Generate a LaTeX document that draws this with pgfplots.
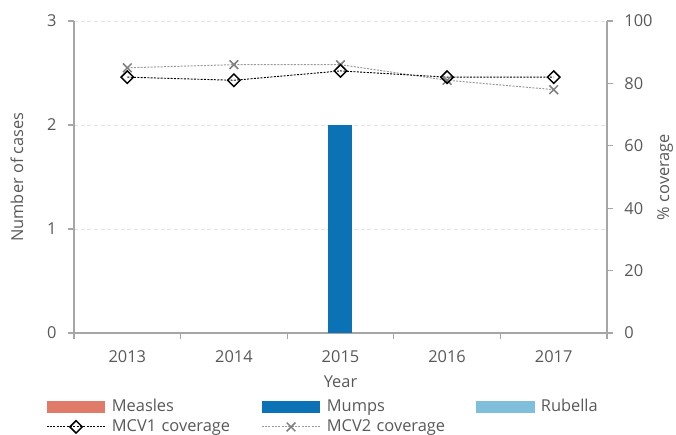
\documentclass[border=0pt]{standalone}
\usepackage{fontspec}
\setmainfont{Open Sans}
\usepackage{pgfplots}
\pgfplotsset{compat=1.18}

\definecolor{txt}{HTML}{595959}
\definecolor{axgray}{HTML}{A6A6A6}
\definecolor{gridgray}{HTML}{E3E3E3}
\definecolor{measles}{HTML}{E07B6A}
\definecolor{mumps}{HTML}{0A72B5}
\definecolor{rubella}{HTML}{7FBFDB}
\definecolor{mcvgray}{HTML}{808080}

\newcommand{\lbl}{\fontsize{12.3pt}{14pt}\selectfont}

\pgfplotsset{
  mcvone/.style={black, dash pattern=on 1.5pt off 1pt, line width=0.7pt,
    mark=square, mark size=3.3pt,
    mark options={solid, rotate=45, line width=1.1pt}},
  mcvtwo/.style={mcvgray!80, dash pattern=on 1.5pt off 1pt, line width=0.75pt,
    mark=x, mark size=4.6pt,
    mark options={solid, mcvgray, line width=1.15pt}},
  barleg/.style={legend image code/.code={
    \fill[##1] (0pt,-4.5pt) rectangle (44pt,4.5pt);}},
  lineleg/.style={legend image code/.code={
    \draw[mark repeat=2, mark phase=2, ##1] plot coordinates {(0pt,0pt) (22pt,0pt) (44pt,0pt)};}},
  zerodrop/.style={y filter/.expression={y==0 ? nan : y}},
  common/.style={
    scale only axis, width=399.75pt, height=234pt,
    xmin=-0.5, xmax=4.5,
    /pgf/number format/assume math mode=true,
    tick label style={font=\lbl, text=txt},
    label style={font=\lbl, text=txt},
    axis line style={axgray, line width=0.8pt},
    tick style={axgray, line width=0.8pt},
    tick align=outside, major tick length=4.5pt,
  },
}

\begin{document}
\begin{tikzpicture}
\begin{axis}[common,
    ymin=0, ymax=3, ytick={0,1,2,3},
    axis x line*=bottom, axis y line*=left,
    xtick={0,1,2,3,4},
    xticklabels={2013,2014,2015,2016,2017},
    major x tick style={draw=none},
    minor xtick={-0.5,0.5,1.5,2.5,3.5,4.5},
    minor tick length=4.5pt,
    xticklabel style={yshift=-5pt},
    yticklabel style={xshift=-5pt},
    ymajorgrids, grid style={gridgray, dash pattern=on 3pt off 2pt, line width=0.6pt},
    xlabel={Year},
    xlabel style={at={(axis description cs:0.5,-0.157)}, anchor=center},
    ylabel={Number of cases},
    ylabel style={at={(axis description cs:-0.107,0.5)}, anchor=center},
    unbounded coords=discard,
    legend cell align=left,
    legend columns=3,
    legend style={at={(axis description cs:-0.0525,-0.205)}, anchor=north west,
      draw=none, fill=none, inner sep=0pt, row sep=0.5pt, column sep=0pt,
      font=\lbl, text=txt,
      nodes={inner xsep=4.5pt, inner ysep=1pt, text height=9.5pt, text depth=3pt,
        text width=107.5pt, align=left}},
  ]
% zero counts draw no bar; the all-zero series get their legend image by hand
\addlegendimage{fill=measles, draw=none, barleg}
\addplot[ybar, bar width=18pt, bar shift=-18pt, fill=measles, draw=none, zerodrop, forget plot]
  coordinates {(0,0) (1,0) (2,0) (3,0) (4,0)};
\addplot[ybar, bar width=18pt, bar shift=0pt, fill=mumps, draw=none, barleg, zerodrop]
  coordinates {(0,0) (1,0) (2,2) (3,0) (4,0)};
\addlegendimage{fill=rubella, draw=none, barleg}
\addplot[ybar, bar width=18pt, bar shift=18pt, fill=rubella, draw=none, zerodrop, forget plot]
  coordinates {(0,0) (1,0) (2,0) (3,0) (4,0)};
\addlegendimage{mcvone, lineleg}
\addlegendimage{mcvtwo, lineleg}
\legend{Measles, Mumps, Rubella, MCV1 coverage, MCV2 coverage}
\end{axis}

\begin{axis}[common,
    ymin=0, ymax=100, ytick={0,20,40,60,80,100},
    axis x line=none, axis y line*=right,
    yticklabel style={xshift=5pt},
    ylabel={\% coverage},
    ylabel style={at={(axis description cs:1.109,0.5)}, anchor=center},
  ]
\addplot[mcvtwo] coordinates {(0,85) (1,86) (2,86) (3,81) (4,78)};
\addplot[mcvone] coordinates {(0,82) (1,81) (2,84) (3,82) (4,82)};
\end{axis}
\pgfresetboundingbox
\path[use as bounding box] (-55.5pt,-76.5pt) rectangle (451.5pt,249.75pt);
\end{tikzpicture}
\end{document}
